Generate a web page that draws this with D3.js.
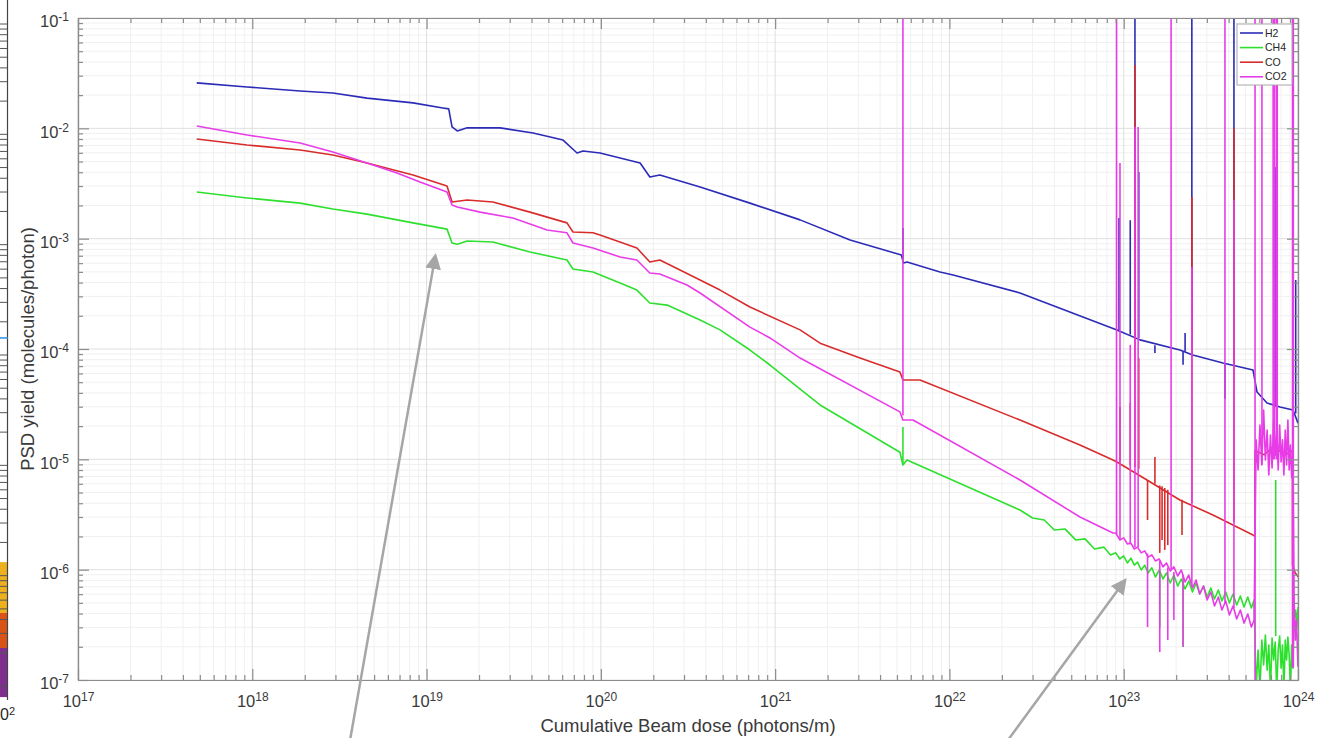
<!DOCTYPE html>
<html>
  <head>
    <meta charset="utf-8">
    <title>PSD yield vs cumulative beam dose</title>
    <script src="https://d3js.org/d3.v7.min.js"></script>
    <style>
      body { margin: 0; background: #fff; }
      svg { display: block; font-family: "Liberation Sans", Arial, Helvetica, sans-serif; }
      .grid line { stroke-width: 1; }
      .minor { stroke: #f0f0f0; }
      .major { stroke: #dfdfdf; }
      .axis path, .axis line { stroke: #8c8c8c; stroke-width: 1.2; }
      .axis text { fill: #3a3a3a; font-size: 16.5px; }
      .series path { fill: none; stroke-width: 1.6; stroke-linejoin: round; }
      .title { fill: #3a3a3a; font-size: 18.5px; }
      .legend text { fill: #262626; font-size: 10.5px; }
    </style>
  </head>
  <body>
    <svg id="chart" width="1317" height="738"></svg>
    <script>
      // data: [dose (photons/m), PSD yield (molecules/photon)]
      var h2 = [
        [4.8e17, 2.58e-2], [9.33e17, 2.37e-2], [1.88e18, 2.18e-2], [2.9e18, 2.09e-2],
        [4.55e18, 1.88e-2], [8.36e18, 1.70e-2], [1.24e19, 1.53e-2], [1.34e19, 1.50e-2],
        [1.40e19, 1.03e-2], [1.50e19, 9.46e-3], [1.71e19, 1.01e-2], [2.64e19, 1.01e-2],
        [4.08e19, 9.07e-3], [6.07e19, 7.83e-3], [7.30e19, 5.98e-3], [7.90e19, 6.23e-3],
        [9.89e19, 5.98e-3], [1.68e20, 4.85e-3], [1.91e20, 3.62e-3], [2.18e20, 3.78e-3],
        [3.71e20, 2.94e-3], [7.17e20, 2.10e-3], [1.39e21, 1.48e-3], [2.69e21, 9.72e-4],
        [5.30e21, 7.11e-4], [5.45e21, 6.01e-4], [5.71e21, 6.14e-4], [8.83e21, 4.99e-4],
        [1.05e22, 4.69e-4], [2.54e22, 3.22e-4], [9.15e22, 1.49e-4], [1.24e23, 1.21e-4],
        [2.10e23, 9.79e-5], [2.49e23, 8.82e-5], [3.71e23, 7.46e-5], [5.52e23, 6.45e-5],
        [5.82e23, 4.07e-5], [6.64e23, 3.24e-5], [7.88e23, 2.98e-5], [9.36e23, 2.80e-5],
        [1e24, 2.13e-5]
      ];
      var ch4 = [
        [4.8e17, 2.65e-3], [9.33e17, 2.34e-3], [1.88e18, 2.10e-3], [2.9e18, 1.86e-3],
        [4.55e18, 1.67e-3], [8.36e18, 1.39e-3], [1.31e19, 1.22e-3], [1.40e19, 9.13e-4],
        [1.50e19, 8.90e-4], [1.71e19, 9.52e-4], [2.40e19, 9.32e-4], [3.92e19, 7.57e-4],
        [6.39e19, 6.41e-4], [6.92e19, 5.31e-4], [9.01e19, 4.99e-4], [1.29e20, 3.96e-4],
        [1.61e20, 3.42e-4], [1.91e20, 2.61e-4], [2.40e20, 2.50e-4], [3.71e20, 1.83e-4],
        [4.83e20, 1.49e-4], [7.17e20, 9.79e-5], [9.34e20, 7.16e-5], [1.81e21, 3.11e-5],
        [5.20e21, 1.16e-5], [5.41e21, 8.88e-6], [5.71e21, 9.86e-6], [2.54e22, 3.47e-6],
        [3.0e22, 2.94e-6], [3.5e22, 2.82e-6], [4.0e22, 2.29e-6], [4.6e22, 2.34e-6],
        [5.3e22, 1.86e-6], [6.0e22, 1.90e-6], [6.8e22, 1.54e-6], [7.7e22, 1.60e-6],
        [8.4e22, 1.36e-6]
      ];
      var co = [
        [4.8e17, 8.00e-3], [9.33e17, 7.06e-3], [1.88e18, 6.36e-3], [2.9e18, 5.73e-3],
        [4.55e18, 4.85e-3], [8.36e18, 3.78e-3], [1.31e19, 3.00e-3], [1.40e19, 2.15e-3],
        [1.71e19, 2.24e-3], [2.40e19, 2.15e-3], [3.92e19, 1.74e-3], [6.39e19, 1.39e-3],
        [6.92e19, 1.15e-3], [9.01e19, 1.13e-3], [9.89e19, 1.08e-3], [1.61e20, 8.23e-4],
        [1.91e20, 6.14e-4], [2.18e20, 6.41e-4], [3.71e20, 4.22e-4], [4.83e20, 3.42e-4],
        [7.17e20, 2.40e-4], [1.39e21, 1.49e-4], [1.81e21, 1.13e-4], [3.07e21, 8.28e-5],
        [5.20e21, 6.19e-5], [5.41e21, 5.24e-5], [6.78e21, 5.24e-5], [2.54e22, 2.27e-5],
        [5.61e22, 1.35e-5], [8.68e22, 9.86e-6], [9.15e22, 9.46e-6], [1.36e23, 6.50e-6],
        [2.10e23, 4.28e-6], [3.25e23, 3.13e-6], [5.52e23, 2.06e-6], [5.67e23, 2.0e-6],
        [5.67e23, 1.2e-5], [6.4e23, 1.1e-5], [7.2e23, 1.3e-5], [8.5e23, 1.1e-5],
        [9.3e23, 1.2e-5], [9.3e23, 1.1e-6], [9.6e23, 9.5e-7], [1e24, 8.6e-7]
      ];
      var co2 = [
        [4.8e17, 1.05e-2], [9.33e17, 8.70e-3], [1.88e18, 7.36e-3], [2.9e18, 6.10e-3],
        [4.55e18, 4.85e-3], [6.77e18, 3.94e-3], [9.17e18, 3.26e-3], [1.31e19, 2.65e-3],
        [1.40e19, 2.02e-3], [1.50e19, 1.94e-3], [2.03e19, 1.74e-3], [3.13e19, 1.54e-3],
        [4.91e19, 1.20e-3], [6.39e19, 1.13e-3], [6.92e19, 9.13e-4], [9.01e19, 8.23e-4],
        [1.29e20, 6.82e-4], [1.61e20, 6.41e-4], [1.91e20, 4.89e-4], [2.18e20, 4.78e-4],
        [3.12e20, 3.80e-4], [3.71e20, 3.22e-4], [7.17e20, 1.58e-4], [9.34e20, 1.26e-4],
        [1.39e21, 8.28e-5], [5.20e21, 2.69e-5], [5.41e21, 2.27e-5], [6.18e21, 2.27e-5],
        [2.54e22, 6.50e-6], [5.61e22, 3.00e-6], [8.68e22, 2.15e-6]
      ];
      // noisy stretch at high dose
      var noiseDose = [
        9.0e22, 9.5e22, 1.0e23, 1.05e23, 1.1e23, 1.15e23, 1.2e23, 1.26e23, 1.32e23, 1.38e23,
        1.45e23, 1.52e23, 1.6e23, 1.68e23, 1.76e23, 1.85e23, 1.94e23, 2.04e23, 2.14e23, 2.25e23,
        2.36e23, 2.48e23, 2.6e23, 2.73e23, 2.87e23, 3.01e23, 3.16e23, 3.32e23, 3.49e23, 3.66e23,
        3.85e23, 4.04e23, 4.24e23, 4.45e23, 4.67e23, 4.9e23, 5.15e23, 5.4e23, 5.6e23
      ];
      var ch4Noise = [
        1.42e-6, 1.25e-6, 1.33e-6, 1.15e-6, 1.27e-6, 1.10e-6, 1.17e-6, 9.93e-7, 1.10e-6, 9.33e-7,
        1.04e-6, 8.58e-7, 9.93e-7, 8.23e-7, 9.33e-7, 7.57e-7, 8.94e-7, 7.11e-7, 8.23e-7, 6.68e-7,
        7.89e-7, 6.27e-7, 7.57e-7, 6.02e-7, 7.11e-7, 5.65e-7, 6.82e-7, 5.42e-7, 6.54e-7, 5.20e-7,
        6.27e-7, 4.99e-7, 6.02e-7, 4.78e-7, 5.77e-7, 4.59e-7, 5.65e-7, 4.49e-7, 5.31e-7
      ];
      var co2Noise = [
        2.15e-6, 1.86e-6, 1.94e-6, 1.71e-6, 1.74e-6, 1.54e-6, 1.60e-6, 1.42e-6, 1.48e-6, 1.30e-6,
        1.36e-6, 1.20e-6, 1.25e-6, 1.06e-6, 1.15e-6, 9.72e-7, 1.06e-6, 8.76e-7, 9.93e-7, 7.73e-7,
        8.94e-7, 6.82e-7, 8.06e-7, 6.02e-7, 7.11e-7, 5.31e-7, 6.27e-7, 4.68e-7, 5.65e-7, 4.31e-7,
        5.20e-7, 3.88e-7, 4.68e-7, 3.57e-7, 4.31e-7, 3.28e-7, 3.96e-7, 3.02e-7, 3.50e-7
      ];
      var blockDose = [
        5.75e23, 5.9e23, 6.05e23, 6.2e23, 6.35e23, 6.5e23, 6.65e23, 6.8e23, 6.95e23, 7.1e23,
        7.25e23, 7.4e23, 7.55e23, 7.7e23, 7.85e23, 8.0e23, 8.15e23, 8.3e23, 8.45e23, 8.6e23,
        8.75e23, 8.9e23, 9.05e23, 9.2e23, 9.35e23
      ];
      var ch4Block = [
        8.1e-8, 1.87e-7, 8.1e-8, 2.30e-7, 1.37e-7, 2.56e-7, 1.23e-7, 2.07e-7, 8.1e-8, 2.40e-7,
        1.52e-7, 2.21e-7, 8.1e-8, 1.87e-7, 2.50e-7, 1.28e-7, 2.07e-7, 8.1e-8, 2.30e-7, 1.52e-7,
        2.45e-7, 1.68e-7, 8.1e-8, 2.07e-7, 1.28e-7
      ];
      var co2Block = [
        1.50e-5, 8.0e-6, 2.05e-5, 8.88e-6, 2.8e-5, 9.86e-6, 1.84e-5, 7.21e-6, 1.66e-5, 8.34e-6,
        2.27e-5, 1.09e-5, 1.84e-5, 8.0e-6, 2.05e-5, 9.46e-6, 1.50e-5, 7.21e-6, 1.84e-5, 8.88e-6,
        2.27e-5, 8.0e-6, 1.35e-5, 6.77e-6, 1.22e-5
      ];
      var ch4Tail = [[9.5e23, 3.5e-7], [9.7e23, 4.31e-7], [9.86e23, 3.02e-7], [1e24, 4.59e-7]];
      var co2Tail = [[9.5e23, 5.31e-7], [9.65e23, 2.30e-7], [9.8e23, 3.5e-7], [1e24, 1.31e-7]];
      // spikes: [dose, from, to]
      var h2Spikes = [
        [5.41e21, 6.5e-4, 1.25e-3], [9.4e22, 1.45e-4, 1.54e-3], [1.09e23, 1.35e-4, 1.47e-3],
        [1.16e23, 1.3e-4, 1], [1.22e23, 1.25e-4, 4.02e-3], [1.51e23, 1.08e-4, 9.2e-5],
        [2.19e23, 9.6e-5, 7.2e-5], [2.25e23, 9.5e-5, 1.40e-4], [2.46e23, 9.0e-5, 1],
        [3.81e23, 7.4e-5, 3.54e-5], [4.29e23, 7.1e-5, 1], [7.38e23, 3.0e-5, 4.46e-3],
        [9.7e23, 2.6e-5, 4.22e-4]
      ];
      var ch4Spikes = [
        [5.41e21, 8.88e-6, 1.96e-5], [1.61e23, 9.5e-7, 3.02e-7], [2.19e23, 8.0e-7, 1.99e-7],
        [7.45e23, 2.5e-7, 6.5e-6]
      ];
      var coSpikes = [
        [9.52e22, 9.4e-6, 2.98e-5], [1.09e23, 8.8e-6, 3.24e-5], [1.16e23, 8.5e-6, 3.75e-2],
        [1.22e23, 8.2e-6, 8.28e-5], [1.37e23, 6.5e-6, 2.82e-6], [1.51e23, 6.0e-6, 1.05e-5],
        [1.61e23, 5.8e-6, 1.42e-6], [1.66e23, 5.7e-6, 1.86e-6], [1.72e23, 5.5e-6, 1.51e-6],
        [1.79e23, 5.3e-6, 1.67e-6], [2.16e23, 4.3e-6, 2.06e-6], [2.46e23, 4.0e-6, 2.39e-3],
        [4.29e23, 2.7e-6, 1.0e-2]
      ];
      var co2Spikes = [
        [5.41e21, 2.5e-5, 1], [9.1e22, 2.1e-6, 1], [9.52e22, 1.9e-6, 4.85e-3],
        [1.09e23, 1.7e-6, 1.09e-4], [1.16e23, 1.6e-6, 1.03e-2], [1.21e23, 1.6e-6, 1.03e-2],
        [1.37e23, 1.4e-6, 3.02e-7], [1.61e23, 1.2e-6, 1.79e-7], [1.79e23, 1.05e-6, 2.30e-7],
        [1.87e23, 1.0e-6, 1], [1.94e23, 9.5e-7, 3.5e-7], [2.19e23, 9.0e-7, 2.0e-7],
        [2.46e23, 7.0e-7, 5.54e-4], [3.81e23, 5.0e-7, 1], [4.29e23, 4.5e-7, 2.24e-3],
        [5.67e23, 1e-7, 1], [6.21e23, 9e-6, 1], [7.2e23, 1e-5, 1], [7.3e23, 1e-5, 1],
        [7.5e23, 1e-5, 1], [7.6e23, 1e-5, 1], [9.3e23, 1.3e-7, 1], [9.4e23, 1.3e-7, 1]
      ];
      var names = ["H2", "CH4", "CO", "CO2"];
      var colours = ["#2b2bb8", "#2ee02e", "#d82c2c", "#e83ce8"];
      var xExponents = [17, 18, 19, 20, 21, 22, 23, 24];
      var yExponents = [-7, -6, -5, -4, -3, -2, -1];
      var xLabel = "Cumulative Beam dose (photons/m)";
      var yLabel = "PSD yield (molecules/photon)";
      // annotation arrows: [tail, tip]
      var arrows = [
        [[3.64e18, 2.86e-8], [1.13e19, 7.41e-4]],
        [[2.17e22, 2.86e-8], [1.04e23, 8.4e-7]]
      ];
      // strip of the neighbouring figure at the left edge
      var sliverBands = [[1.17e-6, 4.05e-7], [4.05e-7, 1.95e-7], [1.95e-7, 7.0e-8]];
      var sliverColours = ["#edb120", "#d95319", "#7e2f8e"];

      var series = [
        {points: h2, spikes: h2Spikes},
        {points: ch4.concat(d3.zip(noiseDose, ch4Noise), d3.zip(blockDose, ch4Block), ch4Tail), spikes: ch4Spikes},
        {points: co, spikes: coSpikes},
        {points: co2.concat(d3.zip(noiseDose, co2Noise), d3.zip(blockDose, co2Block), co2Tail), spikes: co2Spikes}
      ];
      series.forEach(function(s, i) { s.name = names[i]; s.colour = colours[i]; });

      // scales
      var x = d3.scaleLog().domain([1e17, 1e24]).range([78, 1298]);
      var y = d3.scaleLog().domain([1e-7, 1e-1]).range([680, 18]);
      var xMajor = xExponents.map(function(e) { return +("1e" + e); });
      var yMajor = yExponents.map(function(e) { return +("1e" + e); });
      var xMinor = [], yMinor = [];
      xExponents.slice(0, -1).forEach(function(e) {
        d3.range(2, 10).forEach(function(k) { xMinor.push(k * +("1e" + e)); });
      });
      yExponents.slice(0, -1).forEach(function(e) {
        d3.range(2, 10).forEach(function(k) { yMinor.push(k * +("1e" + e)); });
      });

      var svg = d3.select("#chart");
      var defs = svg.append("defs");
      defs.append("clipPath").attr("id", "plotClip")
        .append("rect")
          .attr("x", x.range()[0]).attr("y", y.range()[1])
          .attr("width", x.range()[1] - x.range()[0])
          .attr("height", y.range()[0] - y.range()[1]);
      defs.append("marker")
          .attr("id", "head")
          .attr("markerUnits", "userSpaceOnUse")
          .attr("markerWidth", 18).attr("markerHeight", 16)
          .attr("refX", 6).attr("refY", 8)
          .attr("orient", "auto")
        .append("path")
          .attr("d", "M0,0 L16,8 L0,16 Z")
          .attr("fill", "#a6a6a6");

      // neighbouring figure strip
      var sliver = svg.append("g");
      sliver.selectAll("rect")
          .data(sliverBands)
        .enter().append("rect")
          .attr("x", 0).attr("width", 7)
          .attr("y", function(d) { return y(d[0]); })
          .attr("height", function(d) { return y(d[1]) - y(d[0]); })
          .attr("fill", function(d, i) { return sliverColours[i]; });
      sliver.selectAll("line.tk")
          .data(yMajor.concat(yMinor))
        .enter().append("line")
          .attr("x1", 0).attr("x2", 7)
          .attr("y1", function(d) { return y(d) + 6; })
          .attr("y2", function(d) { return y(d) + 6; })
          .attr("stroke", "#555").attr("stroke-width", 1);
      sliver.append("line")
          .attr("x1", 7.5).attr("x2", 7.5).attr("y1", 0).attr("y2", 700)
          .attr("stroke", "#444").attr("stroke-width", 1.2);
      sliver.append("line")
          .attr("x1", 0).attr("x2", 8).attr("y1", y(1.26e-4)).attr("y2", y(1.26e-4))
          .attr("stroke", "#2f8fe0").attr("stroke-width", 1.5);
      var sliverText = sliver.append("text")
          .attr("x", 0).attr("y", 720)
          .attr("fill", "#262626").attr("font-size", 16);
      sliverText.append("tspan").text("0");
      sliverText.append("tspan").attr("dy", "-0.5em").attr("font-size", 11).text("2");

      // grid
      var grid = svg.append("g").attr("class", "grid");
      grid.selectAll(".vmin").data(xMinor).enter().append("line").attr("class", "minor")
          .attr("x1", x).attr("x2", x).attr("y1", y.range()[1]).attr("y2", y.range()[0]);
      grid.selectAll(".hmin").data(yMinor).enter().append("line").attr("class", "minor")
          .attr("y1", y).attr("y2", y).attr("x1", x.range()[0]).attr("x2", x.range()[1]);
      grid.selectAll(".vmaj").data(xMajor).enter().append("line").attr("class", "major")
          .attr("x1", x).attr("x2", x).attr("y1", y.range()[1]).attr("y2", y.range()[0]);
      grid.selectAll(".hmaj").data(yMajor).enter().append("line").attr("class", "major")
          .attr("y1", y).attr("y2", y).attr("x1", x.range()[0]).attr("x2", x.range()[1]);

      // lines
      var line = d3.line()
        .x(function(d) { return x(d[0]); })
        .y(function(d) { return y(d[1]); });
      var plot = svg.append("g").attr("clip-path", "url(#plotClip)");
      var groups = plot.selectAll(".series")
          .data(series)
        .enter().append("g")
          .classed("series", true)
          .attr("stroke", function(d) { return d.colour; });
      groups.append("path")
          .attr("d", function(d) { return line(d.points); });
      groups.selectAll(".spike")
          .data(function(d) { return d.spikes; })
        .enter().append("path")
          .attr("d", function(d) { return line([[d[0], d[1]], [d[0], d[2]]]); });

      // axes
      function sup(sel, exps) {
        sel.selectAll(".tick text").each(function(d, i) {
          var t = d3.select(this).text(null);
          t.append("tspan").text("10");
          t.append("tspan").attr("dy", "-0.5em").attr("font-size", 12).text(exps[i]);
        });
      }
      var axes = svg.append("g");
      var bottom = axes.append("g").attr("class", "axis")
          .attr("transform", "translate(0," + y.range()[0] + ")")
          .call(d3.axisBottom(x).tickValues(xMajor).tickSize(-11).tickSizeOuter(0).tickPadding(15).tickFormat(function() { return ""; }));
      bottom.call(sup, xExponents);
      axes.append("g").attr("class", "axis")
          .attr("transform", "translate(0," + y.range()[0] + ")")
          .call(d3.axisBottom(x).tickValues(xMinor).tickSize(-5).tickSizeOuter(0).tickFormat(""));
      axes.append("g").attr("class", "axis")
          .attr("transform", "translate(0," + y.range()[1] + ")")
          .call(d3.axisTop(x).tickValues(xMajor).tickSize(-11).tickSizeOuter(0).tickFormat(""));
      axes.append("g").attr("class", "axis")
          .attr("transform", "translate(0," + y.range()[1] + ")")
          .call(d3.axisTop(x).tickValues(xMinor).tickSize(-5).tickSizeOuter(0).tickFormat(""));
      var left = axes.append("g").attr("class", "axis")
          .attr("transform", "translate(" + x.range()[0] + ",0)")
          .call(d3.axisLeft(y).tickValues(yMajor).tickSize(-11).tickSizeOuter(0).tickPadding(9).tickFormat(function() { return ""; }));
      left.call(sup, yExponents);
      left.selectAll(".tick text").attr("dy", "0.54em");
      axes.append("g").attr("class", "axis")
          .attr("transform", "translate(" + x.range()[0] + ",0)")
          .call(d3.axisLeft(y).tickValues(yMinor).tickSize(-5).tickSizeOuter(0).tickFormat(""));
      axes.append("g").attr("class", "axis")
          .attr("transform", "translate(" + x.range()[1] + ",0)")
          .call(d3.axisRight(y).tickValues(yMajor).tickSize(-11).tickSizeOuter(0).tickFormat(""));
      axes.append("g").attr("class", "axis")
          .attr("transform", "translate(" + x.range()[1] + ",0)")
          .call(d3.axisRight(y).tickValues(yMinor).tickSize(-5).tickSizeOuter(0).tickFormat(""));
      axes.selectAll(".axis").attr("font-size", null).attr("font-family", null);

      // titles
      svg.append("text").attr("class", "title")
          .attr("x", (x.range()[0] + x.range()[1]) / 2).attr("y", 732)
          .attr("text-anchor", "middle")
          .text(xLabel);
      svg.append("text").attr("class", "title")
          .attr("transform", "translate(34," + (y.range()[0] + y.range()[1]) / 2 + ") rotate(-90)")
          .attr("text-anchor", "middle")
          .text(yLabel);

      // legend
      var legend = svg.append("g").attr("class", "legend")
          .attr("transform", "translate(1237,24)");
      legend.append("rect")
          .attr("width", 55).attr("height", 61)
          .attr("fill", "#fff").attr("stroke", "#a8a8a8").attr("stroke-width", 1);
      var items = legend.selectAll(".item")
          .data(series)
        .enter().append("g")
          .attr("transform", function(d, i) { return "translate(0," + (9 + i * 14.6) + ")"; });
      items.append("line")
          .attr("x1", 3).attr("x2", 26)
          .attr("stroke", function(d) { return d.colour; })
          .attr("stroke-width", 1.6);
      items.append("text")
          .attr("x", 28).attr("dy", "0.35em")
          .text(function(d) { return d.name; });

      // annotation arrows
      svg.append("g").selectAll("line")
          .data(arrows)
        .enter().append("line")
          .each(function(d) {
            var x1 = x(d[0][0]), y1 = y(d[0][1]), x2 = x(d[1][0]), y2 = y(d[1][1]);
            var len = Math.hypot(x2 - x1, y2 - y1);
            d3.select(this)
              .attr("x1", x1).attr("y1", y1)
              .attr("x2", x2 - (x2 - x1) / len * 10).attr("y2", y2 - (y2 - y1) / len * 10);
          })
          .attr("stroke", "#a6a6a6")
          .attr("stroke-width", 2.5)
          .attr("marker-end", "url(#head)");
    </script>
  </body>
</html>
